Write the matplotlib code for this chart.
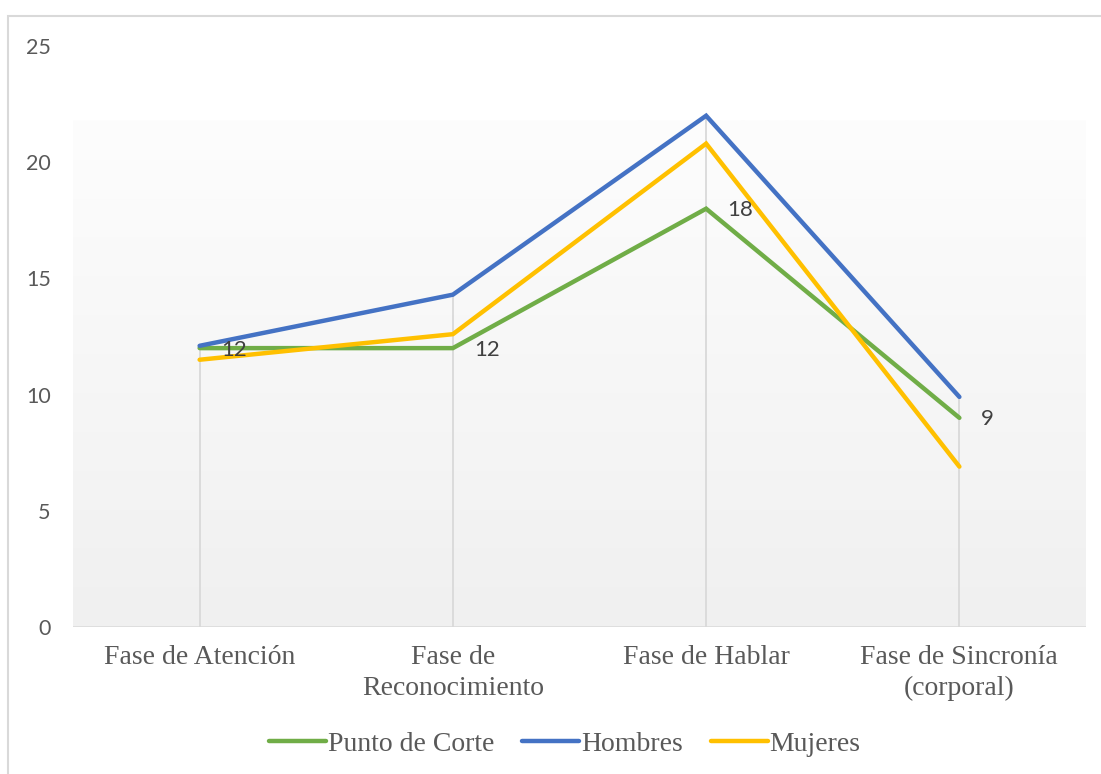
import numpy as np
import matplotlib
matplotlib.use("Agg")
import matplotlib.pyplot as plt
from matplotlib.patches import Rectangle
from matplotlib.colors import LinearSegmentedColormap

categories = ["Fase de Atención", "Fase de\nReconocimiento", "Fase de Hablar",
              "Fase de Sincronía\n(corporal)"]
punto_corte = [12, 12, 18, 9]
hombres = [12.1, 14.3, 22.0, 9.9]
mujeres = [11.5, 12.6, 20.8, 6.9]
y_ticks = [0, 5, 10, 15, 20, 25]

GREEN = "#70ad47"
BLUE = "#4472c4"
GOLD = "#ffc000"
GRID = "#d9d9d9"
TICK_TXT = "#595959"

fig = plt.figure(figsize=(11.01, 7.74), dpi=100)
fig.patch.set_facecolor("white")

# chart-area frame (left and top edges)
fig.add_artist(Rectangle((8 / 1101, -0.05), 1.2, 1 - 16 / 774 + 0.05,
                         transform=fig.transFigure, fill=False,
                         edgecolor=GRID, linewidth=1.5, zorder=0))

ax = fig.add_axes([73 / 1101, 1 - 627 / 774, (1086 - 73) / 1101, (627 - 46) / 774])
ax.set_facecolor("white")
x = np.arange(len(categories))
ax.set_xlim(-0.5, len(categories) - 0.5)
ax.set_ylim(0, 25)

# soft vertical gradient behind the plot
grad_top = 21.8
cmap = LinearSegmentedColormap.from_list("bg", ["#fdfdfd", "#f0f0f0"])
grad = np.linspace(0, 1, 256).reshape(-1, 1)
ax.imshow(grad, cmap=cmap, aspect="auto", origin="upper",
          extent=(-0.5, len(categories) - 0.5, 0, grad_top), zorder=0)

# drop lines from the axis up to the highest series
tops = np.max(np.vstack([punto_corte, hombres, mujeres]), axis=0)
ax.vlines(x, 0, tops, colors=GRID, linewidth=1.3, zorder=1)
ax.axhline(0, color=GRID, linewidth=1.8, zorder=1)

ax.plot(x, punto_corte, color=GREEN, lw=3.2, label="Punto de Corte",
        solid_capstyle="round", solid_joinstyle="miter", zorder=3)
ax.plot(x, hombres, color=BLUE, lw=3.2, label="Hombres",
        solid_capstyle="round", solid_joinstyle="miter", zorder=4)
ax.plot(x, mujeres, color=GOLD, lw=3.2, label="Mujeres",
        solid_capstyle="round", solid_joinstyle="miter", zorder=5)

for xi, v in zip(x, punto_corte):
    ax.annotate(f"{v:g}", (xi, v), xytext=(15.5, -1), textcoords="offset points",
                ha="left", va="center", fontsize=16, color="#404040",
                family="Lato", zorder=6)

for s in ax.spines.values():
    s.set_visible(False)

ax.set_yticks(y_ticks)
ax.set_yticklabels([str(t) for t in y_ticks], family="Lato", fontsize=15.5,
                   color=TICK_TXT)
ax.set_xticks(x)
ax.set_xticklabels(categories, family="Liberation Serif", fontsize=20,
                   color=TICK_TXT, linespacing=1.3, va="top")
ax.tick_params(axis="y", length=0, pad=16)
ax.tick_params(axis="x", length=0, pad=13)

leg = fig.legend(loc="center", bbox_to_anchor=(565 / 1101, 1 - 744 / 774),
                 ncol=3, frameon=False, handlelength=2.05, handletextpad=0.07,
                 columnspacing=1.0,
                 prop={"family": "Liberation Serif", "size": 20})
for t in leg.get_texts():
    t.set_color(TICK_TXT)
for h in leg.get_lines():
    h.set_linewidth(3.2)

fig.savefig("out.png", dpi=100)
